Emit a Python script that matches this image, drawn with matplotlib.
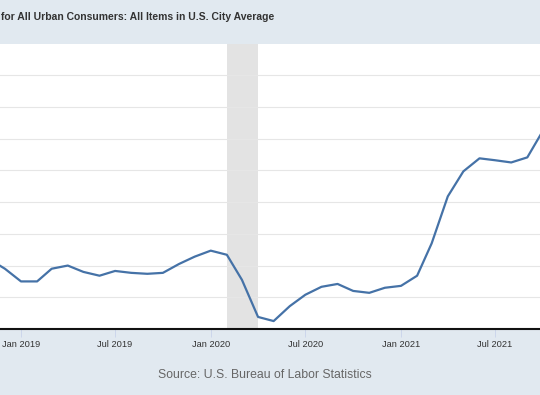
import numpy as np
import matplotlib
matplotlib.use("Agg")
import matplotlib.pyplot as plt
import matplotlib.dates as mdates
from datetime import datetime

# CPI, percent change from year ago (monthly, first of month)
months = ["2018-11", "2018-12",
          "2019-01", "2019-02", "2019-03", "2019-04", "2019-05", "2019-06",
          "2019-07", "2019-08", "2019-09", "2019-10", "2019-11", "2019-12",
          "2020-01", "2020-02", "2020-03", "2020-04", "2020-05", "2020-06",
          "2020-07", "2020-08", "2020-09", "2020-10", "2020-11", "2020-12",
          "2021-01", "2021-02", "2021-03", "2021-04", "2021-05", "2021-06",
          "2021-07", "2021-08", "2021-09", "2021-10"]
cpi_pct = [2.2, 1.9,
           1.5, 1.5, 1.9, 2.0, 1.8, 1.68,
           1.83, 1.77, 1.74, 1.77, 2.05, 2.28,
           2.47, 2.34, 1.55, 0.38, 0.25, 0.72,
           1.08, 1.33, 1.42, 1.2, 1.14, 1.3,
           1.36, 1.68, 2.7, 4.18, 4.97, 5.38,
           5.32, 5.25, 5.41, 6.25]

recession = ("2020-02-01", "2020-04-01")
tick_dates = ["2019-01-01", "2019-07-01", "2020-01-01",
              "2020-07-01", "2021-01-01", "2021-07-01"]

title_txt = "for All Urban Consumers: All Items in U.S. City Average"
source_txt = "Source: U.S. Bureau of Labor Statistics"

plt.rcParams['font.family'] = ['Liberation Sans', 'DejaVu Sans']

dates = [datetime.strptime(m, "%Y-%m") for m in months]
dnum = mdates.date2num(dates)

bg = '#e1e9f0'
fig = plt.figure(figsize=(5.4, 3.95), dpi=100, facecolor=bg)
ax = fig.add_axes([0, 1 - 329 / 395, 1, (329 - 43.5) / 395])
ax.set_facecolor('white')

ax.axvspan(mdates.date2num(datetime.fromisoformat(recession[0])),
           mdates.date2num(datetime.fromisoformat(recession[1])),
           color='#e3e3e3', zorder=1, lw=0)
ax.plot(dnum, cpi_pct, color='#4572a7', lw=1.6, zorder=3,
        solid_joinstyle='round')

# x range: Jan 2019 at px 21, Jan 2021 at px 401
j19 = mdates.date2num(datetime(2019, 1, 1))
j21 = mdates.date2num(datetime(2021, 1, 1))
ppd = 380 / (j21 - j19)
ax.set_xlim(j19 - 21 / ppd, j19 + 519 / ppd)
ax.set_ylim(0, 9)

ax.set_yticks(np.arange(1, 9))
ax.yaxis.grid(True, color='#e6e6e6', lw=0.8, zorder=0)
ax.tick_params(axis='y', left=False, labelleft=False)

ax.set_xticks(mdates.date2num([datetime.fromisoformat(d) for d in tick_dates]))
ax.xaxis.set_major_formatter(mdates.DateFormatter("%b %Y"))
ax.tick_params(axis='x', length=6, width=0.7, color='#ccd6eb',
               labelsize=6.7, labelcolor='#333333', pad=2)

for s in ['left', 'right', 'top']:
    ax.spines[s].set_visible(False)
ax.spines['bottom'].set_color('#111111')
ax.spines['bottom'].set_linewidth(1.5)
ax.spines['bottom'].set_zorder(4)

fig.text(1 / 540, 1 - 17 / 395, title_txt, fontsize=7.45, fontweight='bold',
         color='#333333', ha='left', va='center')
fig.text(265 / 540, 1 - 375 / 395, source_txt, fontsize=8.8,
         color='#666666', ha='center', va='center')

fig.savefig("out.png", dpi=100, facecolor=bg)
